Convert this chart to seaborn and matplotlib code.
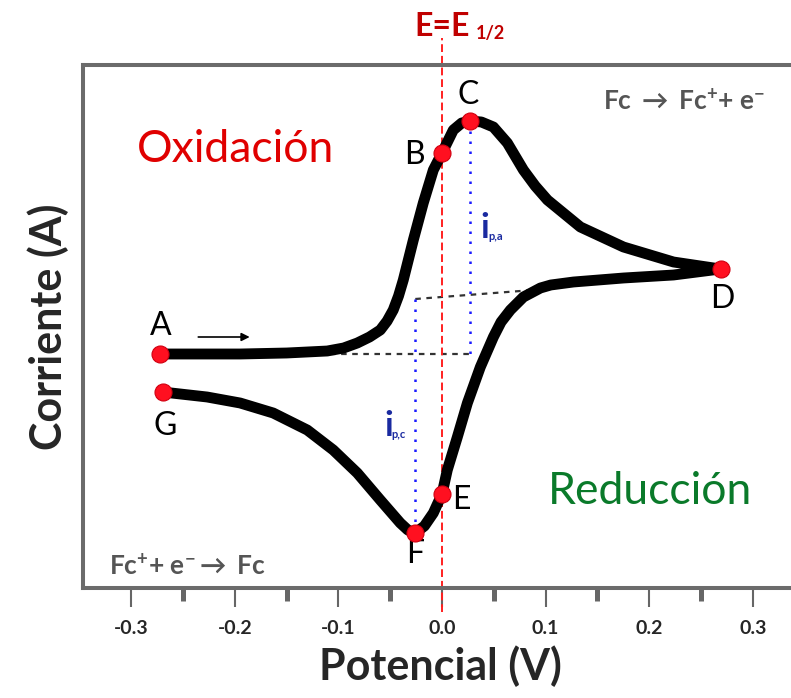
import numpy as np
import pandas as pd
import matplotlib
matplotlib.use("Agg")
import matplotlib.pyplot as plt
import seaborn as sns

# ---- data (potential in V, current in arbitrary units) ----
fwd_E = [-0.2718, -0.23, -0.1949, -0.15, -0.1108, -0.095, -0.0818, -0.07, -0.0596,
         -0.053, -0.0471, -0.042, -0.0374, -0.0277, -0.0181, -0.0084, 0.0, 0.0109,
         0.019, 0.0273, 0.038, 0.0496, 0.0631, 0.0786, 0.09, 0.1018, 0.1336, 0.1752,
         0.2235, 0.2689]
fwd_I = [0.00, 0.00, 0.00, 0.01, 0.03, 0.06, 0.11, 0.17, 0.24, 0.33, 0.44, 0.58,
         0.74, 1.14, 1.51, 1.84, 2.01, 2.24, 2.31, 2.33, 2.32, 2.27, 2.11, 1.84,
         1.68, 1.54, 1.27, 1.07, 0.92, 0.85]
rev_E = [0.2689, 0.2235, 0.1752, 0.1269, 0.105, 0.0950, 0.0786, 0.0660, 0.057,
         0.0496, 0.0370, 0.0245, 0.0148, 0.0051, 0.0, -0.0084, -0.017, -0.0258,
         -0.033, -0.0403, -0.0596, -0.0818, -0.1050, -0.1301, -0.1630, -0.1949,
         -0.2268, -0.2698]
rev_I = [0.85, 0.79, 0.76, 0.72, 0.69, 0.66, 0.57, 0.44, 0.32, 0.17, -0.13, -0.49,
         -0.83, -1.16, -1.40, -1.59, -1.72, -1.79, -1.76, -1.69, -1.46, -1.19, -0.96,
         -0.76, -0.59, -0.49, -0.43, -0.38]

pt_names = ["A", "B", "C", "D", "E", "F", "G"]
pt_E = [-0.2718, 0.0, 0.0273, 0.2689, 0.0, -0.0258, -0.2698]
pt_I = [0.00, 2.01, 2.33, 0.85, -1.40, -1.79, -0.38]

xticks = [-0.3, -0.2, -0.1, 0.0, 0.1, 0.2, 0.3]
xminor = [-0.25, -0.15, -0.05, 0.05, 0.15, 0.25]

E_peak_a, I_peak_a = 0.0273, 2.33
E_peak_c, I_peak_c = -0.0258, -1.79
base_a_E = [-0.108, 0.0273]
base_a_I = [0.0, 0.0]
base_c_E = [-0.0258, 0.0883]
base_c_I = [0.55, 0.64]

# ---- style ----
sns.set_style("white")
plt.rcParams['font.family'] = ['Lato', 'DejaVu Sans']
plt.rcParams['mathtext.fontset'] = 'custom'
plt.rcParams['mathtext.rm'] = 'Lato:bold'
plt.rcParams['mathtext.it'] = 'Lato:italic'
plt.rcParams['mathtext.bf'] = 'Lato:bold'

fig = plt.figure(figsize=(7.91, 6.98), dpi=100)
ax = fig.add_axes([83/791, 1-588/698, (797-83)/791, (588-65)/698])

curve = pd.DataFrame({"E": fwd_E + rev_E[1:], "I": fwd_I + rev_I[1:]})
sns.lineplot(data=curve, x="E", y="I", sort=False, estimator=None, ax=ax,
             color="black", linewidth=7.8, zorder=3)
for l in ax.lines:
    l.set_solid_joinstyle("round")
    l.set_solid_capstyle("round")

# baselines and peak markers
ax.plot(base_a_E, base_a_I, color="#333333", ls=(0, (2.5, 2.5)), lw=1.6, zorder=2)
ax.plot(base_c_E, base_c_I, color="#333333", ls=(0, (2.5, 2.5)), lw=1.6, zorder=2)
ax.plot([E_peak_a, E_peak_a], [I_peak_a, base_a_I[1]], color="#1a1aff", ls=(0, (1, 3)),
        lw=1.8, zorder=2)
ax.plot([E_peak_c, E_peak_c], [base_c_I[0], I_peak_c], color="#1a1aff", ls=(0, (1, 3)),
        lw=1.8, zorder=2)
ax.plot([0, 0], [-2.58, 3.16], color="#ff2020", ls=(0, (4, 2)), lw=1.4, zorder=2,
        clip_on=False)

pts = pd.DataFrame({"E": pt_E, "I": pt_I, "name": pt_names})
sns.scatterplot(data=pts, x="E", y="I", ax=ax, color="#ff1020", s=150,
                edgecolor="#d00010", linewidth=0.8, zorder=5)

label_pos = {"A": (-0.272, 0.28), "B": (-0.027, 1.99), "C": (0.025, 2.59),
             "D": (0.271, 0.55), "E": (0.0185, -1.46), "F": (-0.026, -2.0),
             "G": (-0.267, -0.72)}
for n in pt_names:
    ax.text(*label_pos[n], n, fontsize=23, ha="center", va="center", color="black")

ax.annotate("", xy=(-0.183, 0.17), xytext=(-0.238, 0.17),
            arrowprops=dict(arrowstyle="-|>", color="black", lw=1.2,
                            mutation_scale=12))

ax.text(-0.199, 2.04, "Oxidación", color="#e00000", fontsize=32, ha="center",
        va="center")
ax.text(0.201, -1.38, "Reducción", color="#0a7a2a", fontsize=32, ha="center",
        va="center")
ax.text(0.234, 2.54, r"Fc $\rightarrow$ Fc$^{+}$+ e$^{-}$", color="#555555",
        fontsize=19, ha="center", va="center", fontweight="bold")
ax.text(-0.246, -2.11, r"Fc$^{+}$+ e$^{-}$$\rightarrow$ Fc", color="#555555",
        fontsize=19, ha="center", va="center", fontweight="bold")
ax.text(0.027, 3.27, "E=E", color="#c00000", fontsize=23, ha="right", va="center",
        clip_on=False, fontweight="bold")
ax.text(0.033, 3.21, "1/2", color="#c00000", fontsize=13, ha="left", va="center",
        clip_on=False, fontweight="bold")
ax.text(0.0375, 1.26, "i", color="#1a2aa0", fontsize=25, ha="left", va="center",
        fontweight="bold")
ax.text(0.0445, 1.17, "p,a", color="#1a2aa0", fontsize=8, ha="left", va="center",
        fontweight="bold")
ax.text(-0.056, -0.72, "i", color="#1a2aa0", fontsize=25, ha="left", va="center",
        fontweight="bold")
ax.text(-0.049, -0.81, "p,c", color="#1a2aa0", fontsize=8, ha="left", va="center",
        fontweight="bold")

ax.set_xlim(-0.3466, 0.3427)
ax.set_ylim(-2.34, 2.89)
ax.set_xticks(xticks)
ax.set_xticklabels([f"{t:.1f}" for t in xticks])
ax.set_xticks(xminor, minor=True)
ax.set_yticks([])
ax.tick_params(axis="x", which="major", bottom=True, direction="out", length=14,
               width=1.5, color="#666666", labelsize=14, pad=9)
ax.tick_params(axis="x", which="minor", bottom=True, direction="out", length=9,
               width=3.6, color="#666666")
for lab in ax.get_xticklabels():
    lab.set_fontweight("bold")
for s in ax.spines.values():
    s.set_color("#6b6b6b")
    s.set_linewidth(2.9)

ax.set_xlabel("Potencial (V)", fontsize=31, labelpad=6, fontweight="bold")
ax.set_ylabel("Corriente (A)", fontsize=31, labelpad=10, fontweight="bold")

fig.savefig("out.png", dpi=100)
